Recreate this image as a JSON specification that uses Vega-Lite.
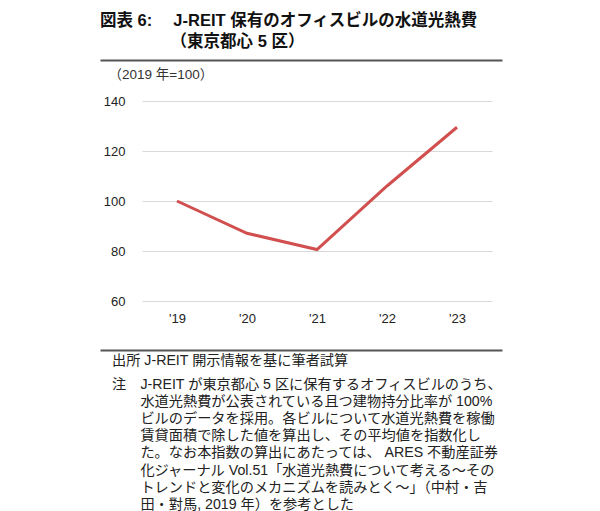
{
  "$schema": "https://vega.github.io/schema/vega-lite/v6.json",
  "padding": {"left": 100, "top": 13, "right": 0, "bottom": 0},
  "background": "white",
  "config": {
    "font": "Liberation Sans, Noto Sans CJK JP",
    "view": {"stroke": null},
    "title": {"color": "#111", "anchor": "start", "frame": "group"}
  },
  "spacing": 2,
  "vconcat": [
    {
      "width": 350,
      "height": 1,
      "title": {
        "text": ["図表 6:　 J-REIT 保有のオフィスビルの水道光熱費", "\u200b　　　　  （東京都心 5 区）"],
        "fontSize": 16.5,
        "fontWeight": "bold",
        "lineHeight": 21,
        "offset": 3,
        "dx": -42
      },
      "data": {"values": [{}]},
      "mark": {"type": "text", "text": ""},
      "encoding": {
        "x": {
          "datum": 0,
          "type": "quantitative",
          "scale": {"domain": [0, 1], "range": [-42, 360]},
          "axis": {"title": null, "labels": false, "ticks": false, "grid": false, "domain": true, "domainColor": "#555", "domainWidth": 2}
        }
      }
    },
    {
      "spacing": 19,
      "vconcat": [
        {
          "width": 350,
          "height": 200,
          "data": {
            "values": [
              {"year": "'19", "value": 100},
              {"year": "'20", "value": 87.1},
              {"year": "'21", "value": 80.6},
              {"year": "'22", "value": 106},
              {"year": "'23", "value": 129.5}
            ]
          },
          "mark": {"type": "line", "color": "#D14F4F", "strokeWidth": 3},
          "encoding": {
            "x": {
              "field": "year",
              "type": "ordinal",
              "sort": null,
              "scale": {"type": "point", "padding": 0.5},
              "axis": {
                "title": null,
                "labelAngle": 0,
                "domain": false,
                "ticks": false,
                "labelPadding": 11,
                "labelFontSize": 13,
                "labelColor": "#222"
              }
            },
            "y": {
              "field": "value",
              "type": "quantitative",
              "scale": {"domain": [60, 140], "nice": false, "zero": false},
              "axis": {
                "values": [60, 80, 100, 120, 140],
                "domain": false,
                "ticks": false,
                "gridColor": "#d9d9d9",
                "gridWidth": 1,
                "labelPadding": 17,
                "labelFontSize": 13,
                "labelColor": "#222",
                "title": "（2019 年=100）",
                "titleAngle": 0,
                "titleAlign": "left",
                "titleBaseline": "middle",
                "titleFontWeight": "normal",
                "titleFontSize": 13.5,
                "titleColor": "#333",
                "titleX": -34,
                "titleY": -27
              }
            }
          }
        },
        {
          "width": 350,
          "height": 1,
          "title": {
            "orient": "bottom",
            "text": "出所 J-REIT 開示情報を基に筆者試算",
            "subtitle": [
              "注　J-REIT が東京都心 5 区に保有するオフィスビルのうち、",
              "\u200b　　水道光熱費が公表されている且つ建物持分比率が 100%",
              "\u200b　　ビルのデータを採用。各ビルについて水道光熱費を稼働",
              "\u200b　　賃貸面積で除した値を算出し、その平均値を指数化し",
              "\u200b　　た。なお本指数の算出にあたっては、 ARES 不動産証券",
              "\u200b　　化ジャーナル Vol.51「水道光熱費について考える～その",
              "\u200b　　トレンドと変化のメカニズムを読みとく～」（中村・吉",
              "\u200b　　田・對馬, 2019 年）を参考とした"
            ],
            "fontSize": 14.2,
            "fontWeight": "normal",
            "color": "#222",
            "subtitleFontSize": 14.2,
            "subtitleColor": "#222",
            "subtitleLineHeight": 17.2,
            "subtitlePadding": 10,
            "dx": -30,
            "offset": -2
          },
          "data": {"values": [{}]},
          "mark": {"type": "text", "text": ""},
          "encoding": {
            "x": {
              "datum": 0,
              "type": "quantitative",
              "scale": {"domain": [0, 1], "range": [-42, 360]},
              "axis": {"orient": "top", "title": null, "labels": false, "ticks": false, "grid": false, "domain": true, "domainColor": "#555", "domainWidth": 2}
            }
          }
        }
      ]
    }
  ]
}
